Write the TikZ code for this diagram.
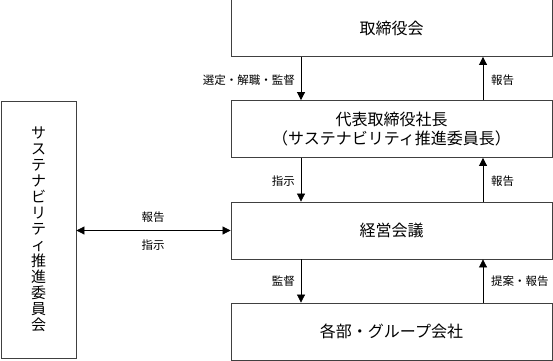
\documentclass[tikz,border=0pt]{standalone}
\usepackage{fontspec}
\setmainfont{Noto Sans CJK JP}
\usetikzlibrary{arrows.meta}
\begin{document}
\begin{tikzpicture}[x=1pt,y=1pt,
  box/.style={draw=black!75,line width=0.8pt,minimum width=321pt,minimum height=57pt,inner sep=0pt,font=\fontsize{16}{19}\selectfont},
  arr/.style={line width=0.7pt,-{Triangle[length=8pt,width=8pt]}},
  lab/.style={font=\fontsize{11.5}{13}\selectfont,inner sep=0pt}]
\useasboundingbox (0,0) rectangle (553,360);
\node[box] (bod) at (391.5,332) {取締役会};
\node[box,align=center] (ceo) at (391.5,231) {代表取締役社長\\（サステナビリティ推進委員長）};
\node[box] (mgmt) at (391.5,129.5) {経営会議};
\node[box] (grp) at (391.5,28.5) {各部・グループ会社};
\node[draw=black!75,line width=0.8pt,minimum width=75pt,minimum height=257pt,inner sep=0pt,align=center,font=\fontsize{15}{16}\selectfont] (sus) at (38.5,130.5)
  {サ\\ス\\テ\\ナ\\ビ\\リ\\テ\\ィ\\推\\進\\委\\員\\会};
% left column arrows (down)
\draw[arr] (bod.south -| 301,0) -- (ceo.north -| 301,0);
\draw[arr] (ceo.south -| 301,0) -- (mgmt.north -| 301,0);
\draw[arr] (mgmt.south -| 301,0) -- (grp.north -| 301,0);
% right column arrows (up)
\draw[arr] (ceo.north -| 483,0) -- (bod.south -| 483,0);
\draw[arr] (mgmt.north -| 483,0) -- (ceo.south -| 483,0);
\draw[arr] (grp.north -| 483,0) -- (mgmt.south -| 483,0);
% horizontal
\draw[line width=0.7pt,{Triangle[length=8pt,width=8pt]}-{Triangle[length=8pt,width=8pt]}] (sus.east |- mgmt.west) -- (mgmt.west);
% labels
\node[lab,anchor=east] (l1) at (295,280) {選定・解職・監督};
\node[lab,anchor=west] (l2) at (491,280) {報告};
\node[lab,anchor=east] (l3) at (295,179) {指示};
\node[lab,anchor=west] (l4) at (491,179) {報告};
\node[lab,anchor=east] (l5) at (295,79) {監督};
\node[lab,anchor=west] (l6) at (491,79) {提案・報告};
\node[lab] (l7) at (153,143) {報告};
\node[lab] (l8) at (153,115) {指示};
\end{tikzpicture}
\end{document}
